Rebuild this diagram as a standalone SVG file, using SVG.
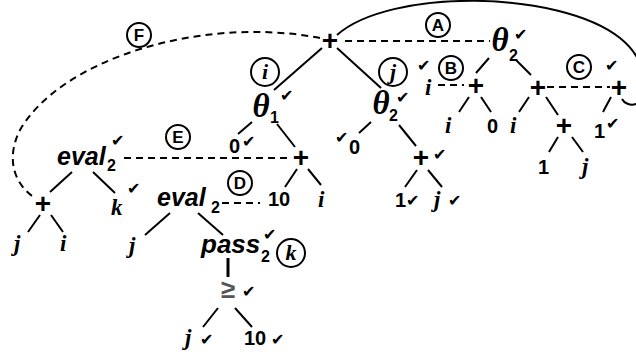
<svg xmlns="http://www.w3.org/2000/svg" width="636" height="356" viewBox="0 0 636 356">
<style>
.ln{stroke:#000;stroke-width:2;fill:none}
.ds{stroke:#000;stroke-width:2;fill:none;stroke-dasharray:7 5}
.pl{font-family:"Liberation Sans",Arial,sans-serif;font-weight:bold;font-size:28px;text-anchor:middle}
.nm{font-family:"Liberation Sans",Arial,sans-serif;font-weight:bold;font-size:20px}
.vr{font-family:"Liberation Serif","Times New Roman",serif;font-weight:bold;font-style:italic;font-size:23px}
.fn{font-family:"Liberation Sans",Arial,sans-serif;font-weight:bold;font-style:italic;font-size:25px}
.sb{font-family:"Liberation Sans",Arial,sans-serif;font-weight:bold;font-size:16px}
.th{font-family:"Liberation Serif","Times New Roman",serif;font-weight:bold;font-style:italic;font-size:33px;text-anchor:middle}
.ck{font-family:"DejaVu Sans",sans-serif;font-size:16px;fill:#000}
.cc{stroke:#000;stroke-width:2;fill:#fff}
.cl{font-family:"Liberation Sans",Arial,sans-serif;font-weight:bold;font-size:17px;text-anchor:middle}
.cv{font-family:"Liberation Serif","Times New Roman",serif;font-weight:bold;font-style:italic;font-size:22px;text-anchor:middle}
</style>
<g id="connectors">
<path class="ds" d="M320,38 C200,15 60,60 20,130 C5,160 15,185 35,198"/>
<path class="ln" d="M337,35 C390,-12 560,-10 620,38 C650,62 650,100 636,104 C630,106 624,103 622,99"/>
<line class="ds" x1="345" y1="41" x2="490" y2="41"/>
<line class="ds" x1="438" y1="85" x2="464" y2="85"/>
<line class="ds" x1="547" y1="87" x2="610" y2="87"/>
<line class="ds" x1="124" y1="158" x2="292" y2="158"/>
<line class="ds" x1="222" y1="203" x2="260" y2="203"/>
<line class="ln" x1="322" y1="48" x2="274" y2="90"/>
<line class="ln" x1="337" y1="48" x2="381" y2="88"/>
<line class="ln" x1="252" y1="122" x2="238" y2="134"/>
<line class="ln" x1="277" y1="124" x2="295" y2="147"/>
<line class="ln" x1="297" y1="169" x2="285" y2="187"/>
<line class="ln" x1="308" y1="169" x2="321" y2="185"/>
<line class="ln" x1="72" y1="172" x2="50" y2="192"/>
<line class="ln" x1="93" y1="172" x2="115" y2="193"/>
<line class="ln" x1="40" y1="215" x2="28" y2="232"/>
<line class="ln" x1="51" y1="215" x2="63" y2="232"/>
<line class="ln" x1="170" y1="213" x2="145" y2="235"/>
<line class="ln" x1="198" y1="213" x2="223" y2="235"/>
<line class="ln" x1="228" y1="258" x2="228" y2="277" style="stroke-width:3"/>
<line class="ln" x1="218" y1="308" x2="203" y2="327"/>
<line class="ln" x1="235" y1="308" x2="252" y2="327"/>
<line class="ln" x1="371" y1="122" x2="359" y2="133"/>
<line class="ln" x1="399" y1="125" x2="416" y2="146"/>
<line class="ln" x1="417" y1="170" x2="405" y2="187"/>
<line class="ln" x1="428" y1="170" x2="442" y2="187"/>
<line class="ln" x1="489" y1="58" x2="476" y2="73"/>
<line class="ln" x1="516" y1="60" x2="531" y2="75"/>
<line class="ln" x1="469" y1="97" x2="459" y2="112"/>
<line class="ln" x1="481" y1="97" x2="491" y2="112"/>
<line class="ln" x1="529" y1="97" x2="519" y2="112"/>
<line class="ln" x1="546" y1="97" x2="558" y2="115"/>
<line class="ln" x1="558" y1="137" x2="549" y2="152"/>
<line class="ln" x1="572" y1="137" x2="583" y2="152"/>
<line class="ln" x1="611" y1="97" x2="603" y2="112"/>
</g>
<g id="root"><text class="pl" x="330" y="50">+</text></g>
<g id="labelA"><circle class="cc" cx="438" cy="25" r="12"/><text class="cl" x="438" y="31">A</text></g>
<g id="labelB"><circle class="cc" cx="451" cy="68" r="12"/><text class="cl" x="451" y="74">B</text></g>
<g id="labelC"><circle class="cc" cx="579" cy="67" r="12"/><text class="cl" x="579" y="73">C</text></g>
<g id="labelD"><circle class="cc" cx="240" cy="183" r="12"/><text class="cl" x="240" y="189">D</text></g>
<g id="labelE"><circle class="cc" cx="178" cy="137" r="12"/><text class="cl" x="178" y="143">E</text></g>
<g id="labelF"><circle class="cc" cx="139" cy="35" r="12"/><text class="cl" x="139" y="41">F</text></g>
<g id="theta1">
<circle class="cc" cx="265" cy="72" r="14"/><text class="cv" x="265" y="79">i</text>
<text class="th" x="261" y="117">θ</text><text class="sb" x="270" y="123">1</text><text class="ck" x="280" y="101">✔︎</text>
</g>
<g id="zero1"><text class="nm" x="229" y="153">0</text><text class="ck" x="242" y="147">✔︎</text></g>
<g id="plus1"><text class="pl" x="301" y="167">+</text></g>
<g id="ten1"><text class="nm" x="268" y="206">10</text></g>
<g id="i1"><text class="vr" x="318" y="207">i</text></g>
<g id="evalE"><text class="fn" x="57" y="165">eval</text><text class="sb" x="107" y="171">2</text><text class="ck" x="111" y="146">✔︎</text></g>
<g id="plus2"><text class="pl" x="43" y="213">+</text></g>
<g id="k1"><text class="vr" x="111" y="215">k</text><text class="ck" x="127" y="194">✔︎</text></g>
<g id="j1"><text class="vr" x="14" y="251">j</text></g>
<g id="i2"><text class="vr" x="60" y="251">i</text></g>
<g id="evalD"><text class="fn" x="157" y="206">eval</text><text class="sb" x="211" y="213">2</text></g>
<g id="j2"><text class="vr" x="129" y="253">j</text></g>
<g id="pass">
<text class="fn" x="201" y="253" style="font-size:26px">pass</text><text class="sb" x="261" y="262">2</text><text class="ck" x="263" y="240">✔︎</text>
<circle class="cc" cx="291" cy="253" r="14"/><text class="cv" x="291" y="260">k</text>
</g>
<g id="geq"><text class="nm" x="228" y="298" style="text-anchor:middle;fill:#555;font-size:26px">≥</text><text class="ck" x="242" y="297">✔︎</text></g>
<g id="j3"><text class="vr" x="185" y="345">j</text><text class="ck" x="200" y="345">✔︎</text></g>
<g id="ten2"><text class="nm" x="244" y="345">10</text><text class="ck" x="271" y="345">✔︎</text></g>
<g id="theta2m">
<circle class="cc" cx="393" cy="72" r="14"/><text class="cv" x="393" y="79">j</text>
<text class="th" x="381" y="114">θ</text><text class="sb" x="389" y="121">2</text><text class="ck" x="396" y="103">✔︎</text>
</g>
<g id="zero2"><text class="ck" x="335" y="143">✔︎</text><text class="nm" x="349" y="154">0</text></g>
<g id="plus3"><text class="pl" x="421" y="167">+</text><text class="ck" x="433" y="160">✔︎</text></g>
<g id="one1"><text class="nm" x="395" y="207">1</text><text class="ck" x="406" y="206">✔︎</text></g>
<g id="j4"><text class="vr" x="434" y="207">j</text><text class="ck" x="448" y="206">✔︎</text></g>
<g id="theta2t"><text class="th" x="500" y="51">θ</text><text class="sb" x="509" y="61">2</text><text class="ck" x="514" y="40">✔︎</text></g>
<g id="iB"><text class="ck" x="417" y="71">✔︎</text><text class="vr" x="425" y="95">i</text></g>
<g id="plus4"><text class="pl" x="476" y="95">+</text></g>
<g id="i3"><text class="vr" x="445" y="133">i</text></g>
<g id="zero3"><text class="nm" x="487" y="133">0</text></g>
<g id="plus5"><text class="pl" x="538" y="97">+</text></g>
<g id="plus6"><text class="pl" x="619" y="97">+</text><text class="ck" x="605" y="71">✔︎</text></g>
<g id="i4"><text class="vr" x="510" y="133">i</text></g>
<g id="plus7"><text class="pl" x="564" y="135">+</text></g>
<g id="one2"><text class="nm" x="538" y="174">1</text></g>
<g id="j5"><text class="vr" x="582" y="174">j</text></g>
<g id="one3"><text class="nm" x="594" y="138">1</text><text class="ck" x="606" y="129">✔︎</text></g>
</svg>
